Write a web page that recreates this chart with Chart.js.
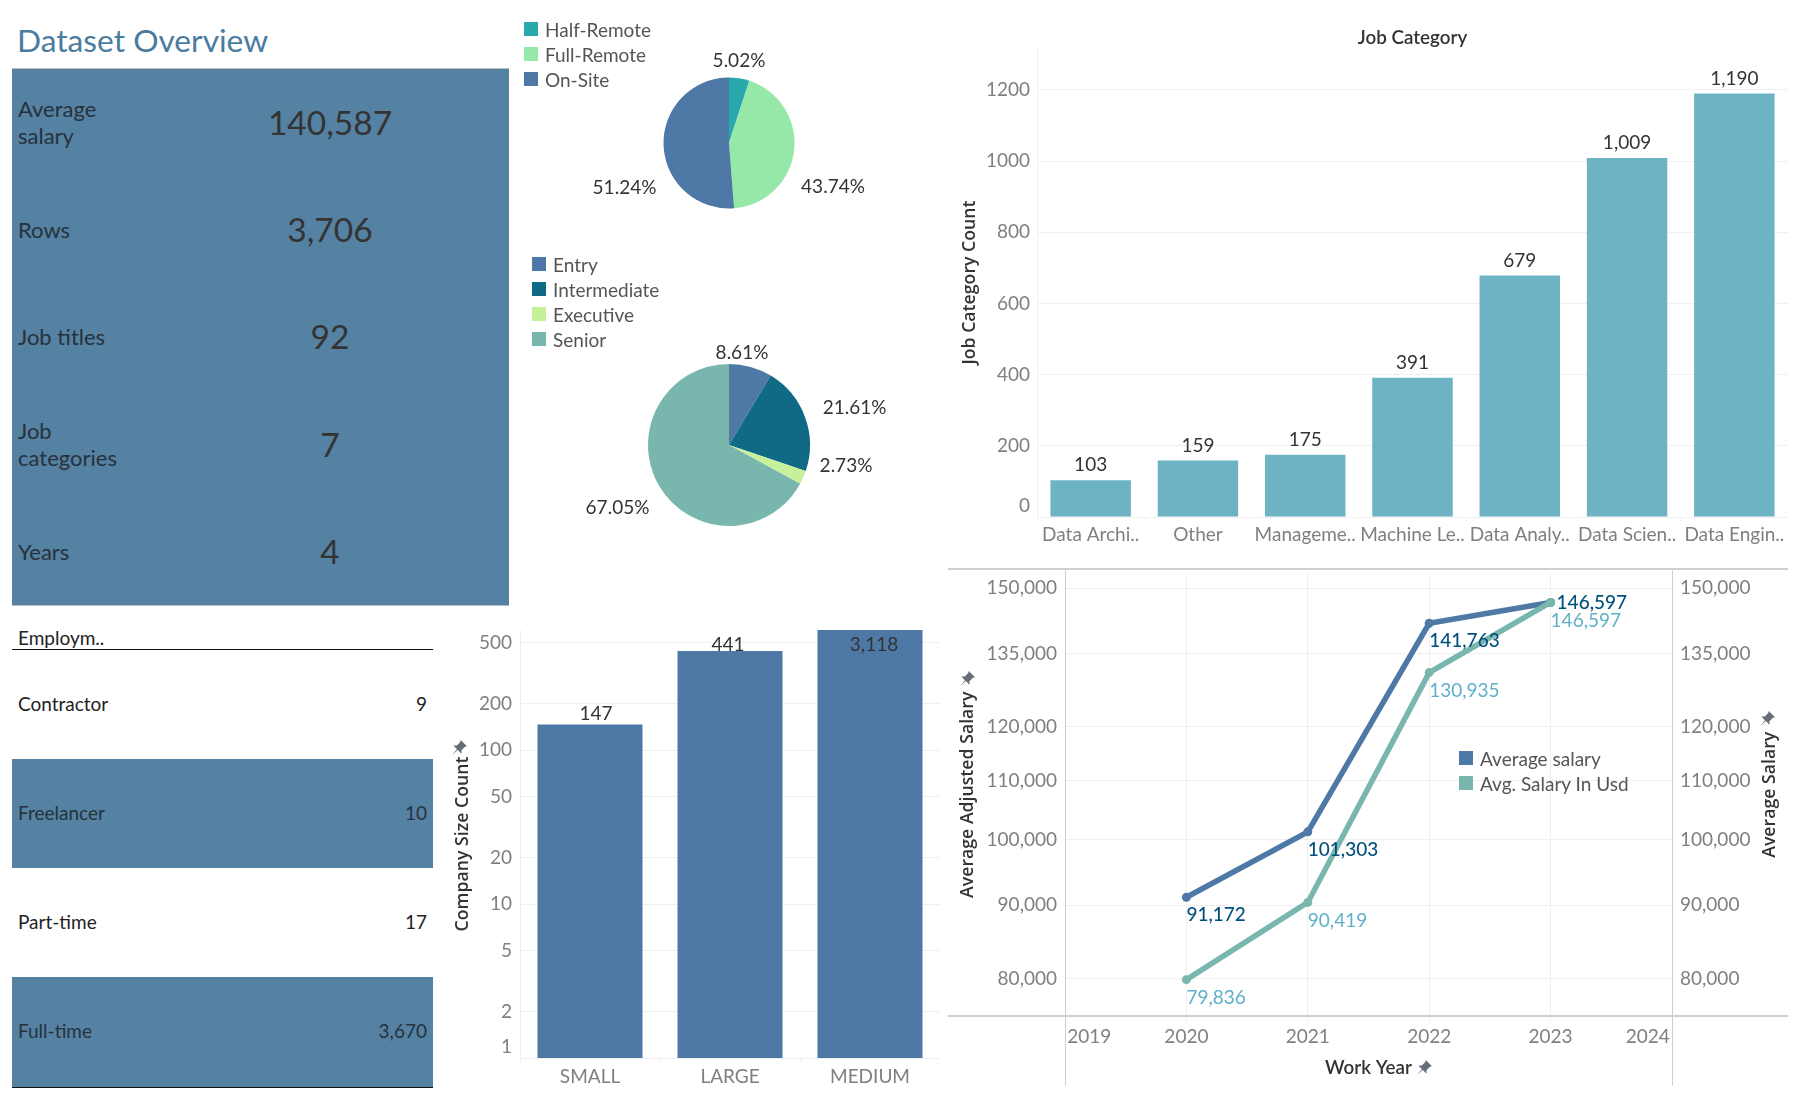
<!DOCTYPE html>
<html lang="en">
<head>
<meta charset="UTF-8">
<title>Dataset Overview</title>
<script src="https://cdn.jsdelivr.net/npm/chart.js"></script>
<style>
    html, body { margin: 0; width: 1800px; height: 1100px; overflow: hidden; background: #fff; font-family: Lato, sans-serif; color: #333; }
    canvas { position: absolute; }
    .abs { position: absolute; }
    #title { left: 17px; top: 20px; font-size: 31.7px; line-height: 40px; color: #4a7ca0; }
    #panel { left: 12px; top: 68px; width: 497px; height: 538px; background: #5581a3; border-top: 1px solid #b5bcc2; border-bottom: 1px solid #b5bcc2; box-sizing: border-box; }
    .kpi { height: 107.4px; position: relative; }
    .kpi .name { position: absolute; left: 6px; top: calc(50% - 1px); transform: translateY(-50%); width: 140px; font-size: 22px; line-height: 27px; color: #27323b; }
    .kpi .val { position: absolute; left: 218px; width: 200px; top: calc(50% - 1px); transform: translateY(-50%); text-align: center; font-size: 33.5px; color: #333; }
    #empHead { left: 18px; top: 626px; font-size: 19px; line-height: 24px; color: #222; }
    #empTable { left: 12px; top: 648.5px; width: 421px; border-top: 1.5px solid #111; border-bottom: 1.5px solid #111; }
    .emp { height: 109.3px; line-height: 108px; font-size: 19px; padding: 0 6px; display: flex; justify-content: space-between; color: #222; }
    .emp.band { background: #5581a3; color: #26323c; }
    .legend { font-size: 19px; color: #555; }
    .legend div { height: 25px; line-height: 25px; position: relative; padding-left: 21px; white-space: nowrap; }
    .legend i { position: absolute; left: 0; top: 5px; width: 14px; height: 14px; }
    .rule { position: absolute; background: #cfcfcf; }
    svg.pin { position: absolute; width: 15px; height: 15px; fill: #666e7a; }
</style>
</head>
<body>
<div id="title" class="abs">Dataset Overview</div>
<div id="panel" class="abs"></div>
<div id="empHead" class="abs">Employm..</div>
<div id="empTable" class="abs"></div>

<canvas id="workPie" width="340" height="240" style="left:558.5px;top:23px"></canvas>
<canvas id="levelPie" width="340" height="240" style="left:558.5px;top:325px"></canvas>
<div id="workLegend" class="abs legend" style="left:524px;top:17px"></div>
<div id="levelLegend" class="abs legend" style="left:532px;top:252px"></div>

<canvas id="jobChart" width="838" height="545" style="left:950px;top:20px"></canvas>
<canvas id="sizeChart" width="489" height="470" style="left:451px;top:630px"></canvas>
<canvas id="salaryChart" width="840" height="516" style="left:948px;top:569px"></canvas>
<div id="salaryLegend" class="abs legend" style="left:1459px;top:746px"></div>

<div class="rule" style="left:948px;top:568px;width:840px;height:2px"></div>
<div class="rule" style="left:948px;top:1015px;width:840px;height:2px"></div>
<div class="rule" style="left:1065px;top:569px;width:1px;height:517px"></div>
<div class="rule" style="left:1672px;top:569px;width:1px;height:517px"></div>

<script>
const kpiNames = ['Average<br>salary', 'Rows', 'Job titles', 'Job<br>categories', 'Years'];
const kpiValues = [140587, 3706, 92, 7, 4];

const employmentTypes = ['Contractor', 'Freelancer', 'Part-time', 'Full-time'];
const employmentCounts = [9, 10, 17, 3670];

const workTypes = ['Half-Remote', 'Full-Remote', 'On-Site'];
const workShares = [5.02, 43.74, 51.24];
const workColors = ['#2aa9ad', '#95e8a8', '#4e79a7'];

const levels = ['Entry', 'Intermediate', 'Executive', 'Senior'];
const levelShares = [8.61, 21.61, 2.73, 67.05];
const levelColors = ['#4e79a7', '#106985', '#c6f09a', '#79b6ae'];

const jobCategories = ['Data Archi..', 'Other', 'Manageme..', 'Machine Le..', 'Data Analy..', 'Data Scien..', 'Data Engin..'];
const jobCounts = [103, 159, 175, 391, 679, 1009, 1190];
const jobTicks = [0, 200, 400, 600, 800, 1000, 1200];

const companySizes = ['SMALL', 'LARGE', 'MEDIUM'];
const companyCounts = [147, 441, 3118];
const companyTicks = [1, 2, 5, 10, 20, 50, 100, 200, 500];

const workYears = [2020, 2021, 2022, 2023];
const avgSalary = [91172, 101303, 141763, 146597];
const avgSalaryUsd = [79836, 90419, 130935, 146597];
const yearTicks = [2019, 2020, 2021, 2022, 2023, 2024];
const salaryTicks = [80000, 90000, 100000, 110000, 120000, 135000, 150000];

const fmt = v => v.toLocaleString('en-US');
const TICK = '#7f7f7f', GRID = '#efefef', TEXT = '#333';
const AXIS_FONT = { family: 'Open Sans', size: 17.7, weight: '600' };
const TITLE_FONT = { family: 'Lato', size: 18.8, weight: '600' };
const TICK_FONT = { family: 'Lato', size: 19 };

Chart.defaults.animation = false;
Chart.defaults.responsive = false;
Chart.defaults.font.family = 'Lato';
Chart.defaults.plugins.legend.display = false;
Chart.defaults.plugins.tooltip.enabled = false;

// tables and legends
document.getElementById('panel').innerHTML = kpiNames.map((n, i) =>
    `<div class="kpi"><div class="name">${n}</div><div class="val">${fmt(kpiValues[i])}</div></div>`).join('');
document.getElementById('empTable').innerHTML = employmentTypes.map((n, i) =>
    `<div class="emp${i % 2 ? ' band' : ''}"><span>${n}</span><span>${fmt(employmentCounts[i])}</span></div>`).join('');

function fillLegend(id, names, colors) {
    document.getElementById(id).innerHTML = names.map((n, i) =>
        `<div><i style="background:${colors[i]}"></i>${n}</div>`).join('');
}
fillLegend('workLegend', workTypes, workColors);
fillLegend('levelLegend', levels, levelColors);
fillLegend('salaryLegend', ['Average salary', 'Avg. Salary In Usd'], ['#4e79a7', '#79b6ae']);

// little pin icons next to the axis titles
[[452, 740], [960, 671], [1760, 711], [1417, 1060]].forEach(([x, y]) => {
    document.body.insertAdjacentHTML('beforeend',
        `<svg class="pin" viewBox="0 0 12 12" style="left:${x}px;top:${y}px"><path d="M7 0L12 5 10.4 5.4 7.6 8.2 7.6 11 4.6 8 0 12 4 7.4 1 4.4 3.8 4.4 6.6 1.6Z"/></svg>`);
});

// draws text next to the marks of one dataset
function markLabels(datasetIndex, place, text, color, align, weight) {
    return {
        id: 'markLabels' + datasetIndex,
        afterDatasetsDraw(chart) {
            const ctx = chart.ctx;
            ctx.save();
            ctx.font = `${weight || 400} 19px Lato`;
            ctx.fillStyle = color;
            ctx.textAlign = align || 'center';
            ctx.textBaseline = 'middle';
            chart.getDatasetMeta(datasetIndex).data.forEach((el, i) => {
                const p = place(el, i, chart);
                ctx.fillText(text(i), p.x, p.y);
            });
            ctx.restore();
        }
    };
}

function pieChart(id, names, shares, colors, radius, offsets) {
    new Chart(document.getElementById(id), {
        type: 'pie',
        data: { labels: names, datasets: [{ data: shares, backgroundColor: colors, borderWidth: 0, radius }] },
        plugins: [markLabels(0, (el, i) => ({ x: el.x + offsets[i][0], y: el.y + offsets[i][1] }),
            i => shares[i].toFixed(2) + '%', TEXT)]
    });
}
pieChart('workPie', workTypes, workShares, workColors, 65.5, [[10, -82.5], [104, 43.5], [-104.5, 45]]);
pieChart('levelPie', levels, levelShares, levelColors, 81, [[13, -92], [125.7, -37], [117, 21], [-111.5, 63]]);

// fixed axis sizes, and no extra room for the first and last tick label
const fixedWidth = w => s => { s.width = w; s.paddingTop = s.paddingBottom = 0; };
const fixedHeight = h => s => { s.height = h; s.paddingLeft = s.paddingRight = 0; };
const setTicks = list => s => { s.ticks = list.map(value => ({ value })); };

new Chart(document.getElementById('jobChart'), {
    type: 'bar',
    data: { labels: jobCategories, datasets: [{ data: jobCounts, backgroundColor: '#6db3c3', categoryPercentage: 1, barPercentage: 0.75 }] },
    options: {
        plugins: { title: { display: true, text: 'Job Category', fullSize: false, color: TEXT, font: { ...TITLE_FONT, lineHeight: 20 / 18.8 }, padding: { top: 8, bottom: 0 } } },
        scales: {
            x: {
                afterFit: fixedHeight(48),
                border: { color: GRID },
                grid: { offset: true, drawOnChartArea: false, color: GRID, tickLength: 4 },
                ticks: { color: TICK, font: TICK_FONT, padding: 2, maxRotation: 0, autoSkip: false }
            },
            y: {
                min: 0, max: 1318,
                afterFit: fixedWidth(87),
                afterBuildTicks: setTicks(jobTicks),
                border: { color: GRID },
                grid: { color: GRID, drawTicks: false },
                ticks: { color: TICK, font: TICK_FONT, padding: 7, callback: v => v === 0 ? ['0', ''] : String(v) },
                title: { display: true, text: 'Job Category Count', color: TEXT, font: AXIS_FONT, padding: { top: 9, bottom: 0 } }
            }
        }
    },
    plugins: [markLabels(0, el => ({ x: el.x, y: el.y - 15 }), i => fmt(jobCounts[i]), TEXT)]
});

new Chart(document.getElementById('sizeChart'), {
    type: 'bar',
    data: { labels: companySizes, datasets: [{ data: companyCounts, backgroundColor: '#4e79a7', categoryPercentage: 1, barPercentage: 0.75 }] },
    options: {
        scales: {
            x: {
                afterFit: fixedHeight(42),
                border: { color: GRID },
                grid: { offset: true, drawOnChartArea: false, color: GRID, tickLength: 4 },
                ticks: { color: TICK, font: TICK_FONT, padding: 3 }
            },
            y: {
                type: 'logarithmic', min: 1, max: 604, bounds: 'data',
                afterFit: fixedWidth(69),
                afterBuildTicks: setTicks(companyTicks),
                border: { color: GRID },
                grid: { color: GRID, drawTicks: false },
                ticks: { color: TICK, font: TICK_FONT, padding: 8, callback: v => v === 1 ? ['1', ''] : String(v) },
                title: { display: true, text: 'Company Size Count', color: TEXT, font: AXIS_FONT, padding: { top: 1, bottom: 0 } }
            }
        }
    },
    plugins: [markLabels(0, (el, i, chart) => ({ x: el.x + (i === 0 ? 6 : i === 1 ? -2 : 4), y: Math.max(el.y - 11, chart.chartArea.top + 15) }),
        i => fmt(companyCounts[i]), TEXT)]
});

const salaryAxis = position => ({
    type: 'logarithmic', position, min: 75300, max: 153600, bounds: 'data',
    afterBuildTicks: setTicks(salaryTicks),
    border: { display: false },
    grid: { color: GRID, drawTicks: false, drawOnChartArea: position === 'left' },
    ticks: { color: TICK, font: TICK_FONT, padding: 8, callback: v => fmt(v) }
});

// the right axis title reads bottom to top, which the scale title cannot do
const rightAxisTitle = {
    id: 'rightAxisTitle',
    afterDraw(chart) {
        const ctx = chart.ctx, s = chart.scales.y2;
        ctx.save();
        ctx.translate(s.right - 18, (s.top + s.bottom) / 2);
        ctx.rotate(-Math.PI / 2);
        ctx.font = `${AXIS_FONT.weight} ${AXIS_FONT.size}px "${AXIS_FONT.family}"`;
        ctx.fillStyle = TEXT;
        ctx.textAlign = 'center';
        ctx.textBaseline = 'middle';
        ctx.fillText('Average Salary', 0, 0);
        ctx.restore();
    }
};

const pad = '          ';
new Chart(document.getElementById('salaryChart'), {
    type: 'line',
    data: {
        labels: workYears,
        datasets: [
            { label: 'Average salary', data: workYears.map((x, i) => ({ x, y: avgSalary[i] })), yAxisID: 'y2', order: 1, borderColor: '#4e79a7', backgroundColor: '#4e79a7' },
            { label: 'Avg. Salary In Usd', data: workYears.map((x, i) => ({ x, y: avgSalaryUsd[i] })), yAxisID: 'y', order: 0, borderColor: '#79b6ae', backgroundColor: '#79b6ae' }
        ]
    },
    options: {
        elements: { line: { borderWidth: 5.5, tension: 0 }, point: { radius: 4.5, borderWidth: 0 } },
        scales: {
            x: {
                type: 'linear', min: 2019, max: 2024,
                afterFit: fixedHeight(69),
                afterBuildTicks: setTicks(yearTicks),
                border: { display: false },
                grid: { color: GRID, tickLength: 5 },
                ticks: {
                    color: TICK, font: TICK_FONT, padding: 4, maxRotation: 0, autoSkip: false,
                    callback: v => v === 2019 ? pad + v : v === 2024 ? v + pad : String(v)
                },
                title: { display: true, text: 'Work Year', color: TEXT, font: TITLE_FONT, padding: { top: 0, bottom: 6 } }
            },
            y: {
                ...salaryAxis('left'),
                afterFit: fixedWidth(117),
                title: { display: true, text: 'Average Adjusted Salary', color: TEXT, font: AXIS_FONT, padding: { top: 9, bottom: 0 } }
            },
            y2: { ...salaryAxis('right'), afterFit: fixedWidth(116) }
        }
    },
    plugins: [
        rightAxisTitle,
        markLabels(0, (el, i) => i === 3 ? { x: el.x + 6, y: el.y } : { x: el.x, y: el.y + 18 }, i => fmt(avgSalary[i]), '#00507e', 'left', 500),
        markLabels(1, el => ({ x: el.x, y: el.y + 18 }), i => fmt(avgSalaryUsd[i]), '#5fb0c8', 'left')
    ]
});
</script>
</body>
</html>
